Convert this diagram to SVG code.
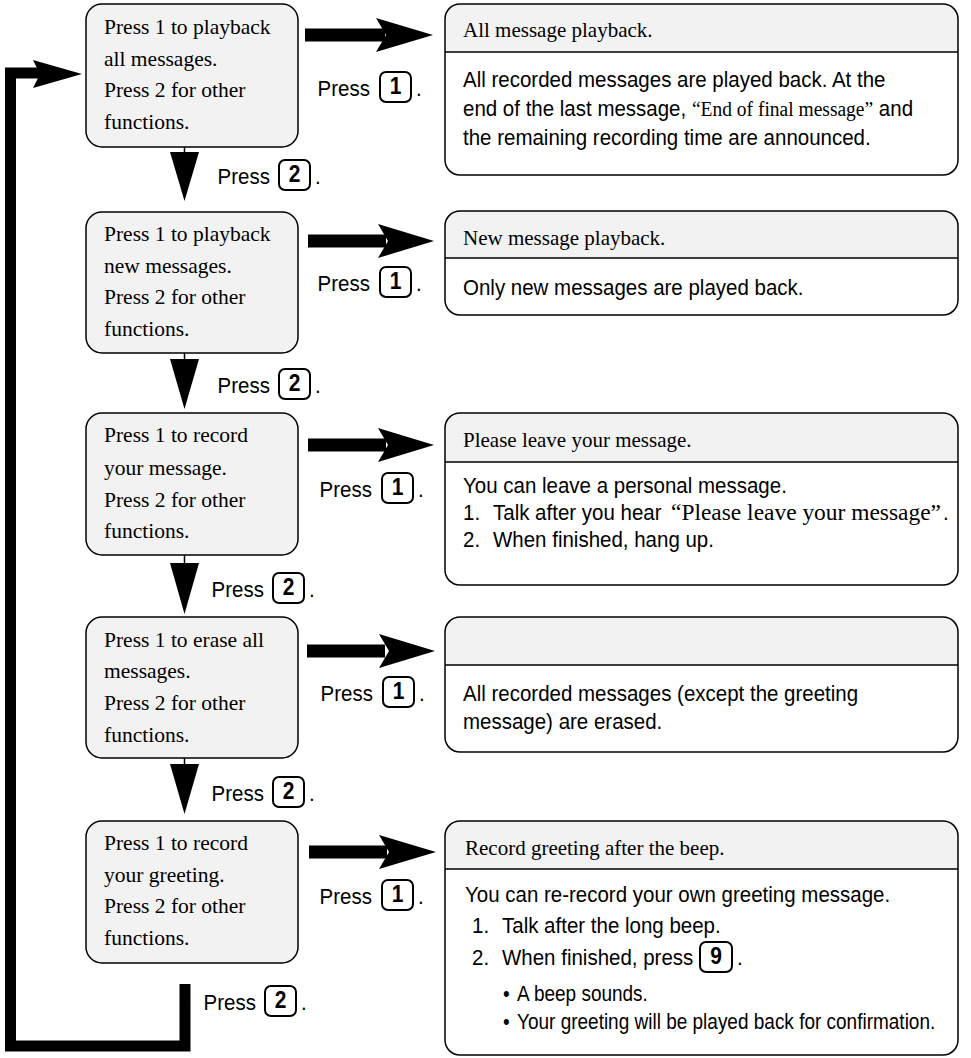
<svg xmlns="http://www.w3.org/2000/svg" width="971" height="1058" viewBox="0 0 971 1058">
<style>
.lb{fill:#f2f2f2;stroke:#000;stroke-width:1.5}
.hd{fill:#f2f2f2;stroke:none}
.rb{fill:none;stroke:#000;stroke-width:1.5}
.dv{stroke:#000;stroke-width:1.5}
.ser{font-family:"Liberation Serif","Times New Roman",serif;font-size:21.5px;fill:#000}
.hdr{font-family:"Liberation Serif","Times New Roman",serif;font-size:21px;fill:#000}
.sans{font-family:"Liberation Sans",Arial,sans-serif;font-size:20.5px;fill:#000}
.sm{font-size:19px}
.si{font-family:"Liberation Serif","Times New Roman",serif;font-size:19.5px}
.kr{fill:#fff;stroke:#000;stroke-width:2}
.kd{font-family:"Liberation Sans",Arial,sans-serif;font-size:21px;font-weight:bold;text-anchor:middle;fill:#000}
.end{text-anchor:end}
.thick{fill:none;stroke:#000;stroke-width:11;stroke-linejoin:miter}
.stem{stroke:#000;stroke-width:1.5}
</style>
<rect x="0" y="0" width="971" height="1058" fill="#fff"/>

<g id="connectors">
  <g fill="#000">
    <rect x="305" y="28.5" width="80" height="13"/><polygon points="376,18 433,35 376,52 386,35"/>
    <rect x="308" y="234.5" width="78" height="13"/><polygon points="378,224 434,241 378,258 388,241"/>
    <rect x="308" y="438.5" width="78" height="13"/><polygon points="378,428 434,445 378,462 388,445"/>
    <rect x="307" y="644.5" width="78" height="13"/><polygon points="379,634 435,651 379,668 389,651"/>
    <rect x="309" y="845.5" width="78" height="13"/><polygon points="379,835 436,852 379,869 389,852"/>
  </g>
  <line class="stem" x1="184.5" y1="147" x2="184.5" y2="160"/>
  <polygon points="170,152 199,152 184.5,201"/>
  <line class="stem" x1="184.5" y1="353" x2="184.5" y2="366"/>
  <polygon points="170,359 199,359 184.5,409"/>
  <line class="stem" x1="184.5" y1="555" x2="184.5" y2="570"/>
  <polygon points="170,563 199,563 184.5,614"/>
  <line class="stem" x1="184.5" y1="758" x2="184.5" y2="770"/>
  <polygon points="170,764 199,764 184.5,814"/>
  <polyline class="thick" points="185,984 185,1046 10.5,1046 10.5,73 40,73"/>
  <polygon points="33,60 82,74 33,88 40,74"/>
</g>

<g id="menu1">
  <rect class="lb" x="86" y="4" width="212" height="143" rx="16"/>
  <text class="ser"><tspan x="104" y="34">Press 1 to playback</tspan><tspan x="104" y="66">all messages.</tspan><tspan x="104" y="97">Press 2 for other</tspan><tspan x="104" y="129">functions.</tspan></text>
</g>
<g id="menu2">
  <rect class="lb" x="86" y="212" width="212" height="141" rx="16"/>
  <text class="ser"><tspan x="104" y="241">Press 1 to playback</tspan><tspan x="104" y="273">new messages.</tspan><tspan x="104" y="304">Press 2 for other</tspan><tspan x="104" y="336">functions.</tspan></text>
</g>
<g id="menu3">
  <rect class="lb" x="86" y="413" width="212" height="142" rx="16"/>
  <text class="ser"><tspan x="104" y="442">Press 1 to record</tspan><tspan x="104" y="475">your message.</tspan><tspan x="104" y="507">Press 2 for other</tspan><tspan x="104" y="538">functions.</tspan></text>
</g>
<g id="menu4">
  <rect class="lb" x="86" y="617" width="212" height="141" rx="16"/>
  <text class="ser"><tspan x="104" y="647">Press 1 to erase all</tspan><tspan x="104" y="678">messages.</tspan><tspan x="104" y="710">Press 2 for other</tspan><tspan x="104" y="742">functions.</tspan></text>
</g>
<g id="menu5">
  <rect class="lb" x="86" y="821" width="212" height="142" rx="16"/>
  <text class="ser"><tspan x="104" y="850">Press 1 to record</tspan><tspan x="104" y="882">your greeting.</tspan><tspan x="104" y="913">Press 2 for other</tspan><tspan x="104" y="945">functions.</tspan></text>
</g>

<g id="press1-a">
  <text class="sans end" transform="translate(370,96) scale(1,1.12)">Press</text>
  <rect class="kr" x="380" y="72" width="31" height="30" rx="6"/>
  <text class="kd" transform="translate(395.5,94) scale(1,1.12)">1</text>
  <text class="sans" transform="translate(416,96) scale(1,1.12)">.</text>
</g>
<g id="press1-b">
  <text class="sans end" transform="translate(370,291) scale(1,1.12)">Press</text>
  <rect class="kr" x="380" y="267" width="31" height="30" rx="6"/>
  <text class="kd" transform="translate(395.5,289) scale(1,1.12)">1</text>
  <text class="sans" transform="translate(416,291) scale(1,1.12)">.</text>
</g>
<g id="press1-c">
  <text class="sans end" transform="translate(372,497) scale(1,1.12)">Press</text>
  <rect class="kr" x="382" y="473" width="31" height="30" rx="6"/>
  <text class="kd" transform="translate(397.5,495) scale(1,1.12)">1</text>
  <text class="sans" transform="translate(418,497) scale(1,1.12)">.</text>
</g>
<g id="press1-d">
  <text class="sans end" transform="translate(373,701) scale(1,1.12)">Press</text>
  <rect class="kr" x="383" y="677" width="31" height="30" rx="6"/>
  <text class="kd" transform="translate(398.5,699) scale(1,1.12)">1</text>
  <text class="sans" transform="translate(419,701) scale(1,1.12)">.</text>
</g>
<g id="press1-e">
  <text class="sans end" transform="translate(372,904) scale(1,1.12)">Press</text>
  <rect class="kr" x="382" y="880" width="31" height="30" rx="6"/>
  <text class="kd" transform="translate(397.5,902) scale(1,1.12)">1</text>
  <text class="sans" transform="translate(418,904) scale(1,1.12)">.</text>
</g>

<g id="press2-a">
  <text class="sans end" transform="translate(270,184) scale(1,1.12)">Press</text>
  <rect class="kr" x="279" y="160" width="31" height="30" rx="6"/>
  <text class="kd" transform="translate(294.5,182) scale(1,1.12)">2</text>
  <text class="sans" transform="translate(315,184) scale(1,1.12)">.</text>
</g>
<g id="press2-b">
  <text class="sans end" transform="translate(270,393) scale(1,1.12)">Press</text>
  <rect class="kr" x="279" y="369" width="31" height="30" rx="6"/>
  <text class="kd" transform="translate(294.5,391) scale(1,1.12)">2</text>
  <text class="sans" transform="translate(315,393) scale(1,1.12)">.</text>
</g>
<g id="press2-c">
  <text class="sans end" transform="translate(264,597) scale(1,1.12)">Press</text>
  <rect class="kr" x="273" y="573" width="31" height="30" rx="6"/>
  <text class="kd" transform="translate(288.5,595) scale(1,1.12)">2</text>
  <text class="sans" transform="translate(309,597) scale(1,1.12)">.</text>
</g>
<g id="press2-d">
  <text class="sans end" transform="translate(264,801) scale(1,1.12)">Press</text>
  <rect class="kr" x="273" y="777" width="31" height="30" rx="6"/>
  <text class="kd" transform="translate(288.5,799) scale(1,1.12)">2</text>
  <text class="sans" transform="translate(309,801) scale(1,1.12)">.</text>
</g>
<g id="press2-e">
  <text class="sans end" transform="translate(256,1010) scale(1,1.12)">Press</text>
  <rect class="kr" x="265" y="986" width="31" height="30" rx="6"/>
  <text class="kd" transform="translate(280.5,1008) scale(1,1.12)">2</text>
  <text class="sans" transform="translate(301,1010) scale(1,1.12)">.</text>
</g>

<g id="result1">
  <path class="hd" d="M445,52 V19 A15,15 0 0 1 460,4 H943 A15,15 0 0 1 958,19 V52 Z"/>
  <rect class="rb" x="445" y="4" width="513" height="171" rx="15"/>
  <line class="dv" x1="445" y1="52" x2="958" y2="52"/>
  <text class="hdr" x="463" y="37">All message playback.</text>
  <text class="sans" transform="translate(463,87) scale(1,1.12)">All recorded messages are played back. At the</text>
  <text class="sans" transform="translate(463,116) scale(1,1.12)">end of the last message, <tspan class="si">“End of final message”</tspan> and</text>
  <text class="sans" transform="translate(463,145) scale(1,1.12)">the remaining recording time are announced.</text>
</g>
<g id="result2">
  <path class="hd" d="M445,258 V226 A15,15 0 0 1 460,211 H943 A15,15 0 0 1 958,226 V258 Z"/>
  <rect class="rb" x="445" y="211" width="513" height="104" rx="15"/>
  <line class="dv" x1="445" y1="258" x2="958" y2="258"/>
  <text class="hdr" x="463" y="245">New message playback.</text>
  <text class="sans" transform="translate(463,295) scale(1,1.12)">Only new messages are played back.</text>
</g>
<g id="result3">
  <path class="hd" d="M445,462 V428 A15,15 0 0 1 460,413 H943 A15,15 0 0 1 958,428 V462 Z"/>
  <rect class="rb" x="445" y="413" width="513" height="172" rx="15"/>
  <line class="dv" x1="445" y1="462" x2="958" y2="462"/>
  <text class="hdr" x="463" y="447">Please leave your message.</text>
  <text class="sans" transform="translate(463,493) scale(1,1.12)">You can leave a personal message.</text>
  <text class="sans" transform="translate(463,520) scale(1,1.12)">1.</text>
  <text class="sans" transform="translate(493,520) scale(1,1.12)">Talk after you hear</text>
  <text class="si" style="font-size:21.5px" transform="translate(671,520) scale(1,1.08)" textLength="270" lengthAdjust="spacingAndGlyphs">“Please leave your message”</text>
  <text class="sans" transform="translate(943,520) scale(1,1.12)">.</text>
  <text class="sans" transform="translate(463,547) scale(1,1.12)">2.</text>
  <text class="sans" transform="translate(493,547) scale(1,1.12)">When finished, hang up.</text>
</g>
<g id="result4">
  <path class="hd" d="M445,665 V632 A15,15 0 0 1 460,617 H943 A15,15 0 0 1 958,632 V665 Z"/>
  <rect class="rb" x="445" y="617" width="513" height="135" rx="15"/>
  <line class="dv" x1="445" y1="665" x2="958" y2="665"/>
  <text class="sans" transform="translate(463,701) scale(1,1.12)">All recorded messages (except the greeting</text>
  <text class="sans" transform="translate(463,729) scale(1,1.12)">message) are erased.</text>
</g>
<g id="result5">
  <path class="hd" d="M445,869 V836 A15,15 0 0 1 460,821 H943 A15,15 0 0 1 958,836 V869 Z"/>
  <rect class="rb" x="445" y="821" width="513" height="234" rx="15"/>
  <line class="dv" x1="445" y1="869" x2="958" y2="869"/>
  <text class="hdr" x="465" y="855">Record greeting after the beep.</text>
  <text class="sans" transform="translate(465,902) scale(1,1.12)">You can re-record your own greeting message.</text>
  <text class="sans" transform="translate(472,933) scale(1,1.12)">1.</text>
  <text class="sans" transform="translate(502,933) scale(1,1.12)">Talk after the long beep.</text>
  <text class="sans" transform="translate(472,965) scale(1,1.12)">2.</text>
  <text class="sans" transform="translate(502,965) scale(1,1.12)">When finished, press</text>
  <rect class="kr" x="700" y="942" width="32" height="30" rx="6"/>
  <text class="kd" transform="translate(716,964) scale(1,1.12)">9</text>
  <text class="sans" transform="translate(737,965) scale(1,1.12)">.</text>
  <text class="sans sm" transform="translate(503,1001) scale(1,1.12)">•</text>
  <text class="sans sm" transform="translate(517,1001) scale(1,1.12)">A beep sounds.</text>
  <text class="sans sm" transform="translate(503,1029) scale(1,1.12)">•</text>
  <text class="sans sm" transform="translate(517,1029) scale(1,1.12)">Your greeting will be played back for confirmation.</text>
</g>
</svg>
